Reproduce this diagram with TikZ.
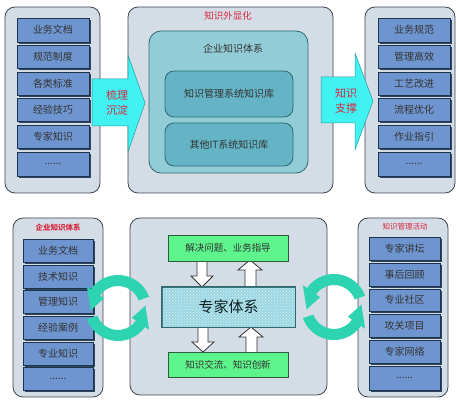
\documentclass[tikz,border=0pt]{standalone}
\usepackage{fontspec}
\setmainfont{Noto Sans CJK SC}
\usetikzlibrary{shadows,patterns}
\definecolor{panelfill}{HTML}{D4DCE6}
\definecolor{paneldraw}{HTML}{3D4750}
\definecolor{itemfill}{HTML}{6F95D0}
\definecolor{itemdraw}{HTML}{1F354D}
\definecolor{itemshadow}{HTML}{2C4560}
\definecolor{tealpanel}{HTML}{92CDD7}
\definecolor{tealbox}{HTML}{64B4C5}
\definecolor{tealdraw}{HTML}{2E6A70}
\definecolor{cyanarrow}{HTML}{40F2F2}
\definecolor{cyandraw}{HTML}{2A9A9A}
\definecolor{greenbox}{HTML}{5EF48C}
\definecolor{greendraw}{HTML}{2F5A3C}
\definecolor{circteal}{HTML}{2ED3B2}
\definecolor{redtext}{HTML}{D8283E}
\definecolor{txt}{HTML}{333333}
\definecolor{expertfill}{HTML}{9BD7E3}
\newcommand{\rbox}[7]{%
  \pgfmathsetmacro{\cxx}{(#3+#5)/2}\pgfmathsetmacro{\cyy}{(#4+#6)/2}%
  \pgfmathsetmacro{\ww}{#5-#3}\pgfmathsetmacro{\hh}{#6-#4}%
  \node[#1, minimum width=\ww pt, minimum height=\hh pt] (#2) at (\cxx,\cyy) {#7};}
\newcommand{\circarrow}[5]{% cx cy tail bodyend tip (page angles)
  \begin{scope}[shift={(#1,#2)}]
    \fill[circteal] (-#3:33) arc[start angle=-#3, end angle=-#4, radius=33]
      -- (-#4:38) -- (-#5:27.5) -- (-#4:17) -- (-#4:22)
      arc[start angle=-#4, end angle=-#3, radius=22] -- cycle;
  \end{scope}}
\begin{document}
\begin{tikzpicture}[x=1pt,y=-1pt,
  panel/.style={draw=paneldraw, fill=panelfill, line width=0.8pt, rounded corners=10pt, inner sep=0pt},
  item/.style={draw=itemdraw, fill=itemfill, line width=0.6pt, inner sep=0pt, text=txt, font=\fontsize{10}{12}\selectfont,
    general shadow={fill=itemshadow, shadow xshift=1.6pt, shadow yshift=-1.6pt}},
  tpanel/.style={draw=tealdraw, fill=tealpanel, line width=0.8pt, rounded corners=12pt, inner sep=0pt},
  tbox/.style={draw=tealdraw, fill=tealbox, line width=0.8pt, rounded corners=9pt, inner sep=0pt, text=txt, font=\fontsize{10}{12}\selectfont},
  gbox/.style={draw=greendraw, fill=greenbox, line width=0.8pt, inner sep=0pt, text=txt, font=\fontsize{9.5}{12}\selectfont},
  bigarrow/.style={draw=cyandraw, fill=cyanarrow, line width=0.5pt},
  hollow/.style={draw=black!80, fill=white, line width=0.8pt},
  redlbl/.style={text=redtext, inner sep=0pt},
  lbl/.style={text=txt, inner sep=0pt, font=\fontsize{10}{12}\selectfont}]
\useasboundingbox (0,0) rectangle (456,401);

% ---------- top row ----------
\rbox{panel}{P1}{5}{7}{100}{193}{}
\rbox{panel}{P2}{128}{7}{333}{193}{}
\rbox{panel}{P3}{365}{7}{455}{193}{}

\rbox{item}{a1}{17}{18}{89}{42}{业务文档}
\rbox{item}{a2}{17}{45}{89}{68}{规范制度}
\rbox{item}{a3}{17}{72}{89}{95}{各类标准}
\rbox{item}{a4}{17}{98}{89}{121}{经验技巧}
\rbox{item}{a5}{17}{125}{89}{148}{专家知识}
\rbox{item}{a6}{17}{152}{89}{176}{......}

\rbox{item}{b1}{378}{18}{450}{42}{业务规范}
\rbox{item}{b2}{378}{45}{450}{68}{管理高效}
\rbox{item}{b3}{378}{72}{450}{95}{工艺改进}
\rbox{item}{b4}{378}{98}{450}{121}{流程优化}
\rbox{item}{b5}{378}{125}{450}{148}{作业指引}
\rbox{item}{b6}{378}{152}{450}{176}{......}

\node[redlbl, font=\fontsize{9.5}{11}\selectfont] (t1) at (228,16) {知识外显化};
\rbox{tpanel}{T}{149}{31}{308}{173}{}
\node[lbl] (t2) at (233,49) {企业知识体系};
\rbox{tbox}{k1}{165}{71}{293}{117}{知识管理系统知识库}
\rbox{tbox}{k2}{165}{123}{293}{166}{其他IT系统知识库}

% big cyan arrows
\draw[bigarrow] (92,79) -- (128,79) -- (128,55) -- (145,103) -- (128,152) -- (128,126) -- (92,126) -- cycle;
\node[redlbl, font=\fontsize{11}{15}\selectfont, align=center] (m1) at (117,103) {梳理\\沉淀};
\draw[bigarrow] (321,77) -- (355,77) -- (355,53) -- (373,101) -- (355,150) -- (355,123) -- (321,123) -- cycle;
\node[redlbl, font=\fontsize{11}{15}\selectfont, align=center] (m2) at (346,101) {知识\\支撑};

% ---------- bottom row ----------
\rbox{panel}{Q1}{13}{218}{103}{397}{}
\rbox{panel}{Q2}{130}{218}{327}{395}{}
\rbox{panel}{Q3}{358}{218}{448}{397}{}

\node[redlbl, font=\bfseries\fontsize{7.5}{9}\selectfont] (s1) at (58,228) {企业知识体系};
\rbox{item}{c1}{23}{239}{93}{262}{业务文档}
\rbox{item}{c2}{23}{265}{93}{288}{技术知识}
\rbox{item}{c3}{23}{290}{93}{313}{管理知识}
\rbox{item}{c4}{23}{316}{93}{339}{经验案例}
\rbox{item}{c5}{23}{342}{93}{365}{专业知识}
\rbox{item}{c6}{23}{367}{93}{390}{......}

\node[redlbl, font=\fontsize{7.5}{9}\selectfont] (s2) at (405,227) {知识管理活动};
\rbox{item}{d1}{369}{237}{440}{260}{专家讲坛}
\rbox{item}{d2}{369}{263}{440}{286}{事后回顾}
\rbox{item}{d3}{369}{289}{440}{311}{专业社区}
\rbox{item}{d4}{369}{314}{440}{337}{攻关项目}
\rbox{item}{d5}{369}{340}{440}{363}{专家网络}
\rbox{item}{d6}{369}{366}{440}{390}{......}

% hollow arrows
\draw[hollow] (197,260) -- (207,260) -- (207,276) -- (213,276) -- (202,287) -- (191,276) -- (197,276) -- cycle;
\draw[hollow] (245,288) -- (256,288) -- (256,270) -- (262,270) -- (250,260) -- (238,270) -- (245,270) -- cycle;
\draw[hollow] (198,326) -- (208,326) -- (208,342) -- (214,342) -- (203,352) -- (192,342) -- (198,342) -- cycle;
\draw[hollow] (246,353) -- (257,353) -- (257,337) -- (263,337) -- (251,327) -- (239,337) -- (246,337) -- cycle;

\rbox{gbox}{g1}{168}{235}{288}{261}{解决问题、业务指导}
\rbox{gbox}{g2}{168}{352}{288}{377}{知识交流、知识创新}
\node[draw=tealdraw, fill=expertfill, line width=0.8pt, minimum width=133pt, minimum height=40pt, inner sep=0pt] (E) at (228.5,307) {};
\fill[pattern=crosshatch dots, pattern color=white!70!expertfill] (E.north west) rectangle (E.south east);
\draw[tealdraw, line width=0.8pt] (E.north west) rectangle (E.south east);
\node[text=black!70!tealdraw, inner sep=0pt, font=\fontsize{15}{18}\selectfont] (Et) at (E.center) {专家体系};

% circular arrows
\circarrow{118}{308}{20}{145}{185}
\circarrow{118}{308}{200}{325}{5}
\circarrow{334}{307}{20}{145}{185}
\circarrow{334}{307}{200}{325}{5}
\end{tikzpicture}
\end{document}
